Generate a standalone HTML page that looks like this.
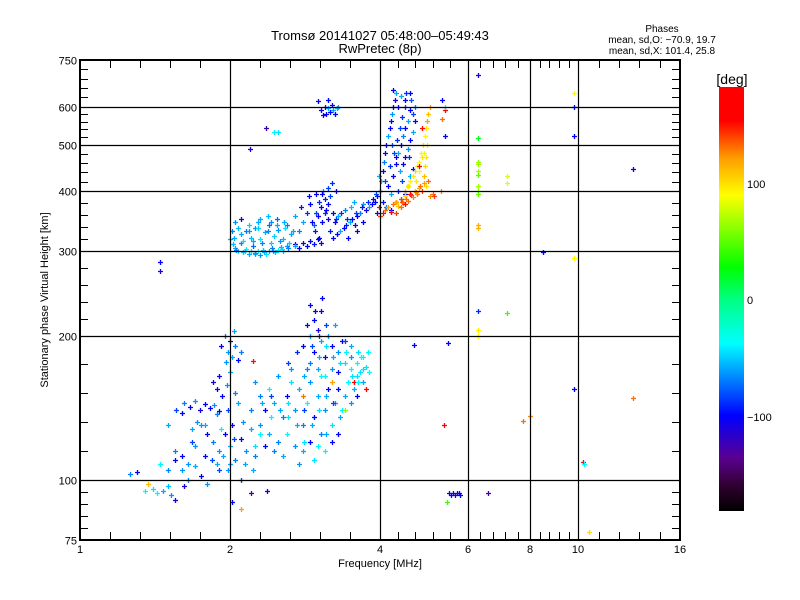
<!DOCTYPE html>
<html><head><meta charset="utf-8"><style>
body{margin:0;background:#fff;}
svg{display:block;font-family:"Liberation Sans",sans-serif;}
</style></head><body>
<svg id="chart" width="800" height="600" viewBox="0 0 800 600">
<rect width="800" height="600" fill="#fff"/>
<g id="points"></g>
<g id="axes"></g>
<text x="380" y="40" font-size="13" text-anchor="middle">Tromsø 20141027 05:48:00–05:49:43</text>
<text x="380" y="53" font-size="13" text-anchor="middle">RwPretec (8p)</text>
<text x="662" y="32" font-size="10" text-anchor="middle">Phases</text>
<text x="662" y="43" font-size="10" text-anchor="middle">mean, sd,O: −70.9, 19.7</text>
<text x="662" y="54" font-size="10" text-anchor="middle">mean, sd,X: 101.4, 25.8</text>
<text x="380" y="567" font-size="11" text-anchor="middle">Frequency [MHz]</text>
<text transform="translate(48,300) rotate(-90)" font-size="11" text-anchor="middle">Stationary phase Virtual Height [km]</text>
<defs><linearGradient id="cbg" x1="0" y1="1" x2="0" y2="0">
<stop offset="0" stop-color="#000"/><stop offset="0.06" stop-color="#300030"/><stop offset="0.125" stop-color="#5a0090"/><stop offset="0.225" stop-color="#0000ff"/><stop offset="0.31" stop-color="#0080ff"/><stop offset="0.395" stop-color="#00ffff"/><stop offset="0.5" stop-color="#00ff80"/><stop offset="0.575" stop-color="#00ff00"/><stop offset="0.745" stop-color="#ffff00"/><stop offset="0.83" stop-color="#ffa000"/><stop offset="0.92" stop-color="#ff0000"/><stop offset="1" stop-color="#ff0000"/>
</linearGradient></defs>
<rect x="719" y="87" width="25" height="424" fill="url(#cbg)"/>
<text x="732" y="84" font-size="14" text-anchor="middle">[deg]</text>
<text x="747" y="188" font-size="11">100</text>
<text x="747" y="304" font-size="11">0</text>
<text x="747" y="421" font-size="11">−100</text>
</svg>
<script>
const freqs=[2.03,2.05,2.08,2.1,2.12,2.15,2.18,2.2,2.22,2.25,2.28,2.3,2.33,2.36,2.4,2.43,2.46,2.5,2.53,2.56,2.6,2.63,2.1,2.15,2.2,2.25,2.3,2.35,2.4,2.45,2.5,2.55,2.6,2.65,2.05,2.1,2.0,2.02,2.18,2.28,2.38,2.48,2.57,
2.7,2.75,2.8,2.85,2.9,2.95,3.0,3.05,2.75,2.8,2.85,2.9,2.95,3.0,3.05,3.1,3.15,2.7,2.78,2.88,2.98,3.08,3.12,3.18,3.22,3.28,3.32,3.38,3.42,3.48,3.52,3.56,3.6,3.65,3.7,3.75,3.8,3.85,3.9,3.95,3.3,3.4,3.5,3.6,3.7,3.45,3.25,3.55,
3.95,4.0,4.02,4.05,4.08,4.1,4.12,4.15,4.18,4.2,4.22,4.25,4.28,4.3,3.98,4.05,4.15,4.2,4.25,4.3,4.35,4.4,4.45,4.5,4.55,4.6,4.35,4.4,4.5,4.6,4.25,4.3,4.38,4.45,4.5,4.55,4.6,4.65,4.7,4.7,4.55,4.6,4.65,4.48,4.12,4.2,4.3,4.4,
4.0,4.05,4.1,4.15,4.2,4.25,4.3,4.35,4.4,4.45,4.5,4.55,4.6,4.65,4.7,4.75,4.8,4.85,4.9,4.95,5.0,4.55,4.6,4.65,4.7,4.75,4.8,4.85,4.9,4.88,4.92,4.95,4.98,5.0,5.03,4.85,4.8,3.98,4.3,4.4,4.5,5.05,5.1,
3.0,3.05,3.1,3.12,3.15,3.18,3.2,3.22,3.25,3.28,3.15,3.3,3.08,2.36,2.45,2.5,2.19,1.45,1.45,
1.92,1.95,1.98,2.0,2.02,2.05,2.08,1.96,2.04,2.1,1.85,1.88,1.9,1.93,1.97,2.0,2.05,
1.62,1.66,1.7,1.74,1.78,1.82,1.86,1.9,1.6,1.72,1.88,1.68,
1.75,1.8,1.85,1.9,1.95,2.0,2.05,2.1,2.15,2.2,2.25,1.7,1.78,1.88,1.98,2.02,2.12,2.3,2.22,1.92,1.6,1.65,1.55,1.5,1.45,
1.55,1.6,1.65,1.7,1.75,1.8,1.35,1.4,1.43,1.47,1.5,1.52,1.55,1.26,1.37,
2.25,2.3,2.35,2.4,2.45,2.5,2.55,2.6,2.65,2.7,2.75,2.8,2.85,2.9,2.95,3.0,3.05,3.1,3.15,3.2,2.3,2.4,2.5,2.6,2.7,2.8,2.9,3.0,2.55,2.75,2.45,2.35,2.65,2.85,3.05,3.25,3.3,2.2,2.95,3.1,2.62,2.42,3.2,
2.8,2.85,2.9,2.95,3.0,3.05,3.1,3.15,3.2,3.25,3.3,3.35,2.9,3.0,3.1,3.2,3.3,3.4,3.5,3.6,3.5,3.45,3.55,3.6,3.65,3.4,3.3,3.5,3.6,3.35,2.95,3.05,2.9,
3.7,3.75,3.8,3.7,3.78,3.62,2.22,3.55,3.75,3.2,3.4,2.8,1.3,
2.02,2.2,2.37,2.1,1.62,
5.5,5.55,5.6,5.65,5.7,5.75,5.8,6.6,5.45,6.3,6.3,6.3,6.3,6.3,6.3,6.3,6.3,6.3,7.2,7.2,6.3,6.3,6.3,7.2,6.3,6.3,
9.8,9.8,9.8,12.9,8.5,9.8,9.8,12.9,5.38,7.75,8.0,10.2,10.25,10.5,5.47,4.67,5.4,5.32,5.4,5.32,5.4,5.3,5.13];
const heights=[310,305,300,312,298,303,296,300,308,296,300,294,302,296,300,305,298,302,306,300,308,312,325,330,320,335,318,328,340,322,332,318,340,325,345,350,318,330,340,345,355,350,345,
310,305,312,308,315,310,318,312,330,345,360,375,340,355,370,385,350,355,370,390,395,400,365,330,320,325,330,335,340,345,350,340,355,360,345,365,370,375,380,360,355,365,370,330,375,320,345,380,
390,400,420,440,460,480,500,520,540,560,580,600,620,640,430,380,410,395,430,455,480,500,520,540,560,590,600,630,620,640,650,470,440,455,470,490,510,530,560,600,410,430,445,395,370,365,380,385,
355,360,365,370,362,375,380,372,385,378,390,382,395,388,400,395,405,400,415,410,420,410,420,430,440,450,460,470,480,500,520,540,560,580,600,540,450,370,360,370,375,390,395,
615,590,600,580,595,585,605,590,580,595,620,600,575,540,530,530,489,285,272,
190,200,185,195,180,190,178,176,204,185,160,155,165,150,158,168,152,
145,142,146,140,144,141,143,139,138,132,137,128,
130,125,120,115,125,118,110,122,115,128,112,118,112,108,105,130,132,125,105,128,112,108,115,105,108,
110,105,100,107,102,98,95,96,94,95,97,93,91,103,98,
160,150,140,155,145,165,135,150,160,140,155,130,145,160,135,150,125,140,155,130,130,125,120,125,118,115,120,118,112,108,115,118,170,170,165,145,125,140,110,115,135,135,120,
190,210,200,185,205,195,180,200,190,210,185,195,175,170,165,170,168,175,170,165,180,160,155,175,168,150,155,145,150,140,215,225,232,
180,172,168,160,185,185,177,160,155,160,140,150,104,
90,94,95,87,97,
94,93,94,93,94,94,93,94,90,697,515,460,455,440,432,410,400,395,430,415,340,335,225,223,205,200,
640,600,520,445,298,290,155,148,130,133,136,109,108,78,193,191,590,620,600,565,520,400,390];
const phases=[-55,-60,-45,-70,-50,-40,-60,-45,-75,-55,-40,-65,-50,-45,-60,-70,-50,-40,-60,-55,-65,-50,-60,-70,-55,-65,-45,-60,-75,-50,-65,-55,-70,-60,-65,-110,-60,-70,-50,-60,-55,-75,-60,
-105,-100,-110,-100,-105,-95,-100,-110,-70,-60,-90,-100,-80,-105,-100,-95,-110,-60,-95,-100,-105,-65,-100,-95,-100,-105,-60,-100,-95,-60,-100,-110,-100,-70,-100,-105,-60,-100,-100,-110,-60,-70,-55,-100,-65,-100,-110,-60,
-100,-105,-60,-100,-70,-100,-110,-60,-100,-100,-65,-100,-110,-60,-60,-95,-100,-60,-100,-105,-60,-100,-70,-100,-60,-100,-100,-60,-105,-100,-100,-100,-60,-100,-100,-65,-100,-60,-100,-70,-100,-60,-100,-100,-70,-100,-105,-65,
140,150,130,120,160,130,120,110,140,120,100,130,150,125,110,130,115,140,120,100,130,95,90,95,100,85,90,95,85,100,90,95,120,110,120,150,160,155,140,130,150,125,130,
-100,-110,-95,-100,-60,-100,-105,-60,-100,-55,-100,-60,-100,-125,-40,-45,-110,-100,-110,
-100,-70,-65,-100,-60,-70,-100,-65,-60,-70,-110,-100,-105,-100,-65,-60,-70,
-70,-100,-65,-110,-100,-105,-65,-100,-100,-65,-70,-60,
-65,-100,-70,-65,-100,-60,-70,-100,-65,-60,-70,-65,-100,-60,-65,-100,-65,-40,-60,-40,-100,-65,-70,-70,-40,
-100,-65,-70,-60,-100,-65,-40,-45,-40,-60,-55,-65,-110,-70,110,
-65,-70,-100,-40,-60,-65,-70,-100,-45,-65,-60,-70,-40,-65,-100,-60,-70,-65,-100,-45,-65,-60,-70,-40,-65,-60,-100,-40,-60,-65,-70,-100,-65,-70,-40,-65,-100,-70,-45,-40,-45,-40,-100,
-100,-105,-65,-100,-110,-60,-100,-65,-100,-60,-65,-100,-70,-60,-40,-65,-100,-45,-40,-45,-65,-40,-60,-40,-45,-60,-100,-65,-100,-40,-100,-105,-100,
-40,-45,-40,-60,-40,-45,150,160,160,120,60,130,-100,
-100,-130,-100,120,-110,
-110,-105,-110,-105,-110,-110,-100,-130,40,-110,20,60,65,65,50,65,65,50,80,80,115,115,-90,40,95,90,
90,-100,-100,-100,-100,90,-100,130,155,130,125,150,-40,100,-100,-100,155,-100,-40,130,-100,125,140];
const freqsExtra=[2.06,2.14,2.24,2.34,2.44,2.54,2.62,2.7,2.12,2.22,2.32,2.42,2.52,2.08,2.18,2.28,2.38,2.48,2.58,2.68,2.04,2.3,2.42,
2.92,2.98,3.02,3.06,3.1,3.14,3.18,3.22,3.26,3.06,3.14,3.2,3.26,2.96,3.34,3.02,
3.44,3.58,3.68,3.78,3.88,3.92,
4.1,4.18,4.26,4.32,4.38,4.42,4.48,4.52,4.62,4.66,4.58,4.42,4.35,4.22,
4.42,4.52,4.62,4.72,4.82,4.9,4.92,4.94,4.96,4.72,4.78,4.84,4.5,
2.62,2.72,2.82,2.92,3.02,3.12,3.22,3.32,3.42,3.52,3.62,3.12,3.22,3.32,3.02,2.92,2.82,2.72,2.62,2.52,2.42,2.32,2.82,3.12,3.02,3.12,2.96,3.06,3.4,3.5,3.66,3.7,
1.68,1.78,1.84,1.94,2.04,2.14,2.24,1.9,2.0,2.1,1.98,2.08,1.5,1.56];
const heightsExtra=[302,300,297,298,300,303,305,308,315,315,312,312,315,335,330,335,330,340,335,330,320,350,345,
345,360,380,345,360,375,390,360,350,395,405,415,400,330,360,320,
350,360,370,380,385,395,
420,450,480,510,540,570,600,640,620,580,470,420,400,500,
380,385,392,398,410,430,450,470,500,420,440,480,400,
175,185,165,190,180,190,180,175,185,165,160,150,145,135,140,130,140,130,145,140,150,145,120,125,200,210,225,240,195,190,180,170,
120,130,110,112,122,108,118,105,108,100,140,145,130,140];
const phasesExtra=[-70,-50,-65,-55,-60,-45,-70,-60,-45,-60,-70,-50,-65,-55,-65,-50,-70,-60,-45,-60,-60,-60,-65,
-100,-85,-90,-100,-90,-100,-85,-100,-90,-100,-85,-90,-100,-95,-90,-100,
-90,-85,-95,-90,-100,-85,
-85,-90,-85,-90,-85,-90,-85,-90,-80,-85,-90,-85,-90,-80,
135,130,140,125,130,110,100,95,95,95,90,90,110,
-85,-90,-60,-85,-60,-45,-60,-45,-40,-45,-40,-60,-85,-60,-45,-60,-85,-60,-45,-60,-85,-60,-45,-60,-90,-85,-100,-100,-85,-60,-40,-45,
-85,-60,-85,-60,-85,-60,-45,-85,-60,-85,-85,-60,-60,-85];

const NS="http://www.w3.org/2000/svg";
const X0=80,X1=680,Y0=60,Y1=540;
function xs(f){return X0+(X1-X0)*Math.log2(f)/4;}
function ys(h){return Y1-(Y1-Y0)*Math.log10(h/75);}
const cstops=[[-182,[0,0,0]],[-160,[48,0,48]],[-137,[90,0,144]],[-100,[0,0,255]],[-70,[0,128,255]],[-38,[0,255,255]],[0,[0,255,128]],[27,[0,255,0]],[88,[255,255,0]],[120,[255,160,0]],[152,[255,0,0]],[182,[255,0,0]]];
function pcol(p){p=Math.max(-182,Math.min(182,p));for(let i=0;i<cstops.length-1;i++){const a=cstops[i],b=cstops[i+1];if(p<=b[0]){const t=(p-a[0])/(b[0]-a[0]);const c=a[1].map((v,k)=>Math.round(v+(b[1][k]-v)*t));return `rgb(${c[0]},${c[1]},${c[2]})`;}}return "red";}
const pg=document.getElementById('points');
const allF=freqs.concat(freqsExtra),allH=heights.concat(heightsExtra),allP=phases.concat(phasesExtra);
for(let i=0;i<allF.length;i++){
  const x=Math.round(xs(allF[i])),y=Math.round(ys(allH[i]));
  const g=document.createElementNS(NS,'path');
  g.setAttribute('d',`M${x-2} ${y+0.5}h5M${x+0.5} ${y-2}v5`);
  g.setAttribute('stroke',pcol(allP[i]));
  g.setAttribute('stroke-width','1.3');
  
  
  pg.appendChild(g);
}
const ax=document.getElementById('axes');
function line(x1,y1,x2,y2,w,name){const l=document.createElementNS(NS,'line');l.setAttribute('x1',x1);l.setAttribute('y1',y1);l.setAttribute('x2',x2);l.setAttribute('y2',y2);l.setAttribute('stroke','#000');l.setAttribute('stroke-width',w);
  
  
  ax.appendChild(l);}
function txt(x,y,s,anchor,name){const t=document.createElementNS(NS,'text');t.setAttribute('x',x);t.setAttribute('y',y);t.setAttribute('font-size','11');t.setAttribute('text-anchor',anchor);t.textContent=s;
  
  
  ax.appendChild(t);}
const xMajor=[1,2,4,6,8,10,16];
const yMajor=[75,100,200,300,400,500,600,750];
for(let i=0;i<xMajor.length;i++){const x=Math.round(xs(xMajor[i]))+0.5;
  if(i>0&&i<xMajor.length-1)line(x,Y0,x,Y1,1.2,'x-grid-line');
  txt(x-0.5,553,String(xMajor[i]),'middle','x-tick-label');
  if(i<xMajor.length-1){const a=Math.log(xMajor[i]),b=Math.log(xMajor[i+1]);
    for(let k=1;k<5;k++){const xx=Math.round(xs(Math.exp(a+(b-a)*k/5)))+0.5;line(xx,Y1,xx,Y1-8,1,'x-minor-tick');line(xx,Y0,xx,Y0+8,1,'x-minor-tick');}}}
for(let i=0;i<yMajor.length;i++){const y=Math.round(ys(yMajor[i]))+0.5;
  if(i>0&&i<yMajor.length-1)line(X0,y,X1,y,1.2,'y-grid-line');
  txt(77,y+4,String(yMajor[i]),'end','y-tick-label');
  if(i<yMajor.length-1){const a=Math.log(yMajor[i]),b=Math.log(yMajor[i+1]);
    for(let k=1;k<5;k++){const yy=Math.round(ys(Math.exp(a+(b-a)*k/5)))+0.5;line(X0,yy,X0+8,yy,1,'y-minor-tick');line(X1,yy,X1-8,yy,1,'y-minor-tick');}}}
const fr=document.createElementNS(NS,'rect');fr.setAttribute('x',X0);fr.setAttribute('y',Y0);fr.setAttribute('width',X1-X0);fr.setAttribute('height',Y1-Y0);fr.setAttribute('fill','none');fr.setAttribute('stroke','#000');fr.setAttribute('stroke-width','2');


ax.appendChild(fr);
</script>
</body></html>
